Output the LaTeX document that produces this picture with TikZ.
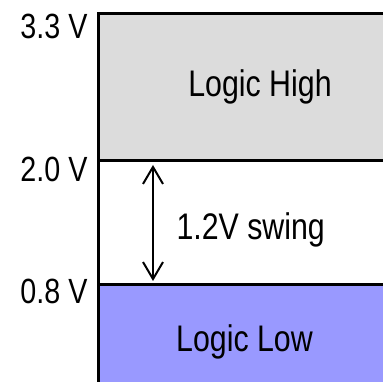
\documentclass[tikz,border=0pt]{standalone}
\usepackage{fontspec}
\setmainfont{Liberation Sans}[FakeStretch=0.82]
\usetikzlibrary{arrows.meta, positioning}
\definecolor{hgray}{RGB}{220,220,220}
\definecolor{lblue}{RGB}{153,153,255}

\tikzset{
  band/.style={fill=#1, draw=none, inner sep=0pt, anchor=south west},
  lvl/.style={anchor=base east, inner sep=0pt, font=\fontsize{35}{40}\selectfont},
  txt/.style={inner sep=0pt, font=\fontsize{37}{42}\selectfont},
}

\begin{document}
\begin{tikzpicture}[x=1pt, y=1pt, line width=3pt]
  \useasboundingbox (0,0) rectangle (383,382);
  \clip (0,0) rectangle (383,382);
  % logic bands
  \node[band=hgray, minimum width=300pt, minimum height=144pt] (high) at (98,221) {};
  \node[band=lblue, minimum width=300pt, minimum height=100pt] (low) at (98,-6) {};
  \draw (low.south west) -- (high.north west) -- (high.north east);
  \draw (high.south west) -- (high.south east);
  \draw (low.north west) -- (low.north east);
  % texts
  \node[txt, anchor=base] (hightxt) at (260,285) {Logic High};
  \node[txt, anchor=base] (lowtxt) at (244.5,30) {Logic Low};
  \node[txt, anchor=base west] (swingtxt) at (175,142) {1.2V swing};
  % voltage levels
  \node[lvl] (v33) at (89,343.7) {3.3 V};
  \node[lvl] (v20) at (89,200) {2.0 V};
  \node[lvl] (v08) at (89,78.7) {0.8 V};
  % swing arrow
  \coordinate (swingx) at (153,0);
  \draw[{Straight Barb[length=17pt, width=20pt]}-{Straight Barb[length=17pt, width=20pt]},
        line width=2pt, shorten <=4pt, shorten >=4pt]
    (swingx |- high.south) -- (swingx |- low.north);
\end{tikzpicture}
\end{document}
